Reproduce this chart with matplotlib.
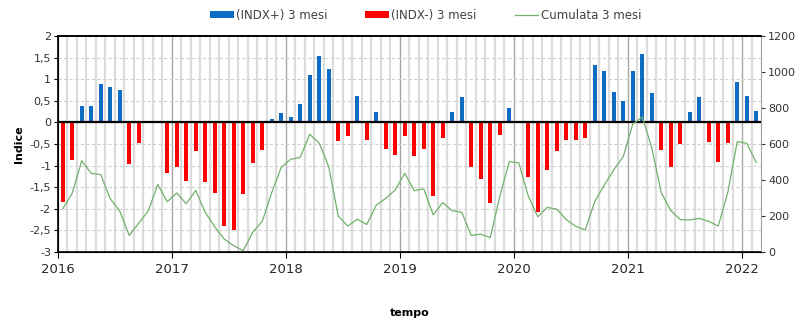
import numpy as np
import matplotlib.pyplot as plt
from matplotlib.ticker import FuncFormatter

# mesi da gen 2016 a feb 2022
anni = ["2016", "2017", "2018", "2019", "2020", "2021", "2022"]

indx_pos = [0, 0, 0.39, 0.39, 0.89, 0.83, 0.74, 0, 0, 0, 0.04, 0,
            0, 0, 0, 0, 0, 0, 0, 0, 0, 0, 0.09, 0.21,
            0.13, 0.42, 1.09, 1.53, 1.23, 0, 0, 0.62, 0, 0.23, 0, 0,
            0, 0, 0, 0, 0, 0.25, 0.58, 0, 0, 0, 0, 0.34,
            0, 0, 0, 0, 0, 0, 0, 0, 1.32, 1.20, 0.70, 0.50,
            1.20, 1.58, 0.69, 0, 0, 0, 0.23, 0.58, 0, 0, 0, 0.93,
            0.61, 0.26]

indx_neg = [-1.84, -0.88, 0, 0, 0, 0, 0, -0.96, -0.48, 0, 0, -1.16,
            -1.03, -1.35, -0.66, -1.37, -1.64, -2.39, -2.49, -1.66, -0.95, -0.64, 0, 0,
            0, 0, 0, 0, 0, -0.42, -0.32, 0, -0.40, 0, -0.61, -0.75,
            -0.32, -0.77, -0.61, -1.71, -0.35, 0, 0, -1.03, -1.32, -1.86, -0.29, 0,
            0, -1.27, -2.08, -1.11, -0.67, -0.40, -0.41, -0.37, 0, 0, 0, 0,
            0, 0, 0, -0.65, -1.03, -0.49, 0, 0, -0.46, -0.92, -0.48, 0,
            0, 0]

cumulata = [240, 326, 507, 437, 430, 296, 228, 92, 160, 228, 375, 279,
            328, 268, 342, 220, 140, 72, 35, 8, 110, 170, 330, 470,
            515, 526, 654, 604, 474, 200, 144, 182, 153, 260, 298, 345,
            437, 341, 351, 206, 275, 229, 221, 92, 99, 80, 307, 502,
            495, 312, 195, 248, 238, 180, 143, 123, 280, 372, 456, 530,
            710, 750, 580, 330, 230, 180, 178, 187, 170, 144, 330, 613,
            604, 498]

n = len(cumulata)
x = np.arange(n) + 0.5

fig = plt.figure(figsize=(8.03, 3.24), dpi=100)
ax = fig.add_axes([0.0722, 0.2222, 0.8755, 0.6667])
ax2 = ax.twinx()

# griglia verticale mensile
for m in range(1, n):
    if m % 12 == 0:
        ax.axvline(m, color="#a6a6a6", lw=1.0, zorder=0)
    else:
        ax.axvline(m, color="#dcdcdc", lw=1.6, zorder=0)
for yv in np.arange(-2.5, 2.0, 0.5):
    ax.axhline(yv, color="#d0d0d0", lw=0.8, ls=(0, (3, 2)), zorder=0)

b1 = ax.bar(x, indx_pos, width=0.45, color="#0f6cc4", zorder=2, label="(INDX+) 3 mesi")
b2 = ax.bar(x, indx_neg, width=0.45, color="#ff0000", zorder=2, label="(INDX-) 3 mesi")
ax.axhline(0, color="black", lw=1.6, zorder=3)

l1, = ax2.plot(x, cumulata, color="#72b06c", lw=0.9, label="Cumulata 3 mesi", zorder=4)

ax.set_xlim(0, n)
ax.set_ylim(-3, 2)
ax.set_yticks(np.arange(-3, 2.01, 0.5))
ax.yaxis.set_major_formatter(FuncFormatter(lambda v, p: ("%g" % v).replace(".", ",")))
ax2.set_ylim(0, 1200)
ax2.set_yticks(range(0, 1201, 200))

ax.set_xticks(range(0, n, 12))
ax.set_xticklabels(anni, fontsize=9.5, color="#262626")
ax.tick_params(axis="y", labelsize=8, length=3, pad=2, labelcolor="#333333")
ax2.tick_params(axis="y", labelsize=8, length=3, pad=2, colors="#333333")
ax.tick_params(axis="x", length=4, pad=4)

for s in ["top", "left", "bottom"]:
    ax.spines[s].set_color("black")
    ax.spines[s].set_linewidth(1.2)
ax2.spines["top"].set_linewidth(1.2)
ax2.spines["right"].set_color("#a0a0a0")
ax.spines["right"].set_visible(False)

ax.set_ylabel("Indice", fontsize=8, fontweight="bold", labelpad=4)
ax.set_xlabel("tempo", fontsize=8, fontweight="bold", labelpad=23)

fig.legend(handles=[b1, b2, l1], loc="center", bbox_to_anchor=(0.53, 0.952),
           ncol=3, frameon=False, fontsize=8.5, handlelength=2.0, handleheight=0.55,
           columnspacing=3.2, handletextpad=0.2, labelcolor="#404040")

fig.savefig("out.png", dpi=100)
